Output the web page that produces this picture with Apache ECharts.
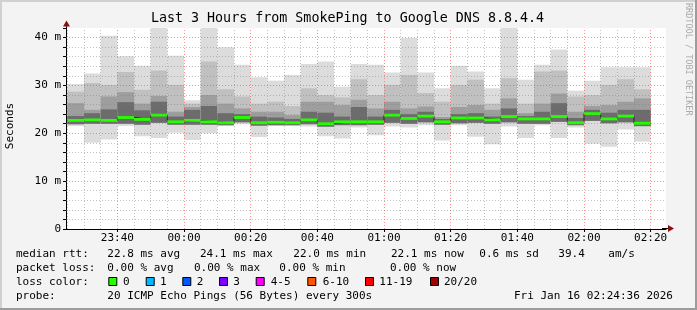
<!DOCTYPE html>
<html><head><meta charset="utf-8">
<script src="https://cdn.jsdelivr.net/npm/echarts@6/dist/echarts.min.js"></script>
<style>html,body{margin:0;padding:0;background:#f3f3f3}#c{width:697px;height:310px}</style>
</head><body><div id="c"></div>
<script>
// ---- data ----
const barTimes = ['23:25','23:30','23:35','23:40','23:45','23:50','23:55','00:00','00:05','00:10','00:15','00:20','00:25','00:30','00:35','00:40','00:45','00:50','00:55','01:00','01:05','01:10','01:15','01:20','01:25','01:30','01:35','01:40','01:45','01:50','01:55','02:00','02:05','02:10','02:15'];
const maxV     = [30.3,32.5,40.4,36.1,34.1,42.0,36.2,26.9,42.0,38.0,34.3,31.7,31.0,32.2,34.5,35.0,29.7,34.5,34.3,32.7,39.9,32.7,29.4,34.1,32.9,29.4,42.0,31.2,34.3,37.5,28.9,31.0,33.8,33.8,33.8];
const hi2      = [28.7,30.5,30.1,32.8,29.1,33.1,30.1,26.2,35.0,29.2,27.7,26.2,26.6,25.7,29.4,28.0,27.5,31.3,28.0,30.1,32.2,28.4,26.6,30.1,31.2,26.2,31.5,26.2,32.9,33.1,27.7,28.0,30.1,31.3,29.2];
const hi3      = [26.3,24.9,27.7,28.6,26.2,27.8,24.5,25.5,28.0,26.2,25.2,24.5,24.5,23.8,26.6,26.6,25.9,27.0,25.2,26.6,25.2,25.6,23.4,25.5,25.9,24.9,27.3,24.2,26.2,28.3,24.5,25.7,25.9,26.6,27.3];
const hi4      = [23.6,24.2,25.0,26.5,24.8,26.6,23.5,24.9,25.7,24.2,24.0,23.5,23.3,23.0,24.5,24.3,23.5,25.5,23.5,24.9,24.0,24.5,23.0,24.0,24.2,23.5,25.2,23.6,24.5,26.3,23.2,24.9,24.3,24.9,24.9];
const median   = [22.7,22.8,22.7,23.3,22.9,23.8,22.4,22.7,22.4,22.2,23.3,22.2,22.3,22.2,22.8,22.0,22.4,22.4,22.4,23.8,23.1,23.6,22.4,23.2,23.2,22.8,23.5,23.0,23.0,23.5,22.2,24.1,23.0,23.6,22.1];
const lowInner = [21.9,22.0,22.0,22.0,21.8,22.2,21.8,21.8,21.8,21.7,22.3,21.6,21.7,21.7,21.9,21.4,21.7,21.7,21.8,22.2,22.0,22.3,21.8,22.1,22.2,22.0,22.3,22.0,22.0,22.4,21.7,22.6,22.1,22.3,21.5];
const minV     = [21.5,18.0,18.7,21.5,19.4,19.0,20.1,18.6,20.0,21.5,21.9,19.2,21.5,21.5,21.4,19.4,18.9,21.2,19.6,21.4,21.2,21.7,18.5,21.7,19.3,17.7,21.4,19.0,21.7,19.0,21.2,17.8,17.2,20.8,18.3];
const xTickLabels = ['23:40','00:00','00:20','00:40','01:00','01:20','01:40','02:00','02:20'];
const yTickLabels = ['0','10 m','20 m','30 m','40 m'];
const lossLabels = ['0','1','2','3','4-5','6-10','11-19','20/20'];
const lossColors = ['#26ff00','#00b8ff','#0059ff','#7e00ff','#ff00ff','#ff5500','#ff0000','#a10000'];

// ---- helpers ----
const STEP = 5; // minutes per bar (300 s)
function toMin(t){ const [h,m]=t.split(':').map(Number); return (h>=23?(h-23):(h+1))*60+m; } // minutes since 23:00
const X_MIN = 24.6, X_MAX = 204.6; // 23:24:36 .. 02:24:36
const xTickVals = xTickLabels.map(toMin);
const smokeData = barTimes.map((t,i)=>[toMin(t),maxV[i],hi2[i],hi3[i],hi4[i],lowInner[i],minV[i]]);
const medData = barTimes.map((t,i)=>[toMin(t),median[i]]);
const stepData = medData.concat([[toMin(barTimes[barTimes.length-1])+STEP, median[median.length-1]]]);

const FONT = '"DejaVu Sans Mono", monospace';
const GRAY = 'rgba(120,120,120,0.45)', RED = 'rgba(255,40,40,0.5)';
const gridLines = [];
for (let m = 25; m < X_MAX; m += 5) gridLines.push({xAxis:m, lineStyle:{color: m%20===0?RED:GRAY, type:[1,2], width:1}});
for (let v = 2; v <= 40; v += 2) gridLines.push({yAxis:v, lineStyle:{color: v%10===0?RED:GRAY, type:[1,2], width:1}});

function txt(x,y,text,opt){ opt=opt||{}; return {type:'text', x:x, y:y, rotation:opt.rot||0, z:100, style:{text:text, fill:opt.fill||'#000', font:(opt.size||11)+'px '+FONT, textAlign:opt.align||'left', align:opt.align||'left', textVerticalAlign:'middle', verticalAlign:'middle'}}; }

const graphics = [
  {type:'rect', shape:{x:0,y:0,width:697,height:2}, style:{fill:'#d0d0d0'}, z:50},
  {type:'rect', shape:{x:0,y:0,width:2,height:310}, style:{fill:'#d0d0d0'}, z:50},
  {type:'rect', shape:{x:695,y:0,width:2,height:310}, style:{fill:'#9c9c9c'}, z:50},
  {type:'rect', shape:{x:0,y:308,width:697,height:2}, style:{fill:'#9c9c9c'}, z:50},
  // axis extensions + arrows
  {type:'line', shape:{x1:66.5,y1:22,x2:66.5,y2:29}, style:{stroke:'#000',lineWidth:1}, z:60},
  {type:'polygon', shape:{points:[[63,26.5],[70,26.5],[66.5,20.5]]}, style:{fill:'#8b1010'}, z:61},
  {type:'line', shape:{x1:662,y1:228.5,x2:670,y2:228.5}, style:{stroke:'#000',lineWidth:1}, z:60},
  {type:'polygon', shape:{points:[[668,225],[668,232],[674,228.5]]}, style:{fill:'#8b1010'}, z:61},
  txt(347.5,19,'Last 3 Hours from SmokePing to Google DNS 8.8.4.4',{size:13.33,align:'center'}),
  txt(10,126,'Seconds',{rot:Math.PI/2,align:'center'}),
  txt(688,3,'RRDTOOL / TOBI OETIKER',{rot:-Math.PI/2,size:8.5,fill:'#aaaaaa'}),
  txt(16,254,'median rtt:'), txt(107.3,254,'22.8 ms avg'), txt(200,254,'24.1 ms max'), txt(293.3,254,'22.0 ms min'),
  txt(391,254,'22.1 ms now'), txt(479.3,254,'0.6 ms sd'), txt(558.3,254,'39.4'), txt(608.3,254,'am/s'),
  txt(16,268,'packet loss:'), txt(107.3,268,'0.00 % avg'), txt(194,268,'0.00 % max'), txt(279.3,268,'0.00 % min'), txt(390,268,'0.00 % now'),
  txt(16,282,'loss color:'),
  txt(16,296,'probe:'), txt(107.3,296,'20 ICMP Echo Pings (56 Bytes) every 300s'), txt(514,296,'Fri Jan 16 02:24:36 2026')
];
const boxX = [108.3,145.7,182.3,219,255.7,307.3,365,430];
const labX = [123,160,196.7,233.3,270.7,322.7,379.3,444];
lossLabels.forEach((l,i)=>{
  graphics.push({type:'rect', shape:{x:boxX[i]+0.5,y:277.5,width:8,height:8}, style:{fill:lossColors[i],stroke:'#000',lineWidth:1}, z:100});
  graphics.push(txt(labX[i],282,l));
});

const chart = echarts.init(document.getElementById('c'), null, {renderer:'canvas'});
chart.setOption({
  animation:false,
  backgroundColor:'#f3f3f3',
  grid:{left:66,right:31,top:28,bottom:81,show:true,backgroundColor:'#ffffff',borderWidth:0,outerBoundsMode:'none',containLabel:false},
  xAxis:{type:'value',min:X_MIN,max:X_MAX,
    axisLine:{show:true,lineStyle:{color:'#000',width:1}},
    axisTick:{show:true,length:3,lineStyle:{color:'#000'},customValues:xTickVals},
    axisLabel:{show:true,customValues:xTickVals,margin:4,color:'#000',fontFamily:'DejaVu Sans Mono',fontSize:11,
      formatter:v=>{const i=xTickVals.indexOf(Math.round(v)); return i>=0?xTickLabels[i]:'';}},
    splitLine:{show:false}},
  yAxis:{type:'value',min:0,max:42,interval:2,
    axisLine:{show:true,lineStyle:{color:'#000',width:1}},
    axisTick:{show:true,length:3,lineStyle:{color:'#000'}},
    axisLabel:{margin:5,color:'#000',fontFamily:'DejaVu Sans Mono',fontSize:11,
      formatter:v=>(v%10===0&&v<=40)?yTickLabels[v/10]:''},
    splitLine:{show:false}},
  series:[
    {type:'custom', z:1, silent:true, data:smokeData,
     renderItem:(params,api)=>{
       const s=api.value(0), e=s+STEP;
       const xa=api.coord([s,0])[0], xb=api.coord([e,0])[0];
       const Y=v=>api.coord([s,v])[1];
       const r=(top,bot,fill)=>({type:'rect',shape:{x:xa,y:Y(top),width:xb-xa,height:Y(bot)-Y(top)},style:{fill:fill}});
       return {type:'group',children:[
         r(api.value(1),api.value(6),'#dcdcdc'),
         r(api.value(2),api.value(5),'#c0c0c0'),
         r(api.value(3),api.value(5),'#9e9e9e'),
         r(api.value(4),api.value(5),'#6c6c6c')
       ]};
     }},
    {type:'line', z:2, silent:true, data:[], markLine:{silent:true,symbol:['none','none'],label:{show:false},animation:false,data:gridLines}},
    {type:'line', z:3, silent:true, data:stepData, step:'end', symbol:'none', lineStyle:{color:'#202020',width:1}},
    {type:'custom', z:4, silent:true, data:medData,
     renderItem:(params,api)=>{
       const s=api.value(0);
       const xa=api.coord([s,0])[0], xb=api.coord([s+STEP,0])[0];
       const y=api.coord([s,api.value(1)])[1];
       return {type:'rect',shape:{x:xa,y:y-1.4,width:xb-xa,height:2.8},style:{fill:'#26ff00'}};
     }}
  ],
  graphic:graphics
});
</script></body></html>
